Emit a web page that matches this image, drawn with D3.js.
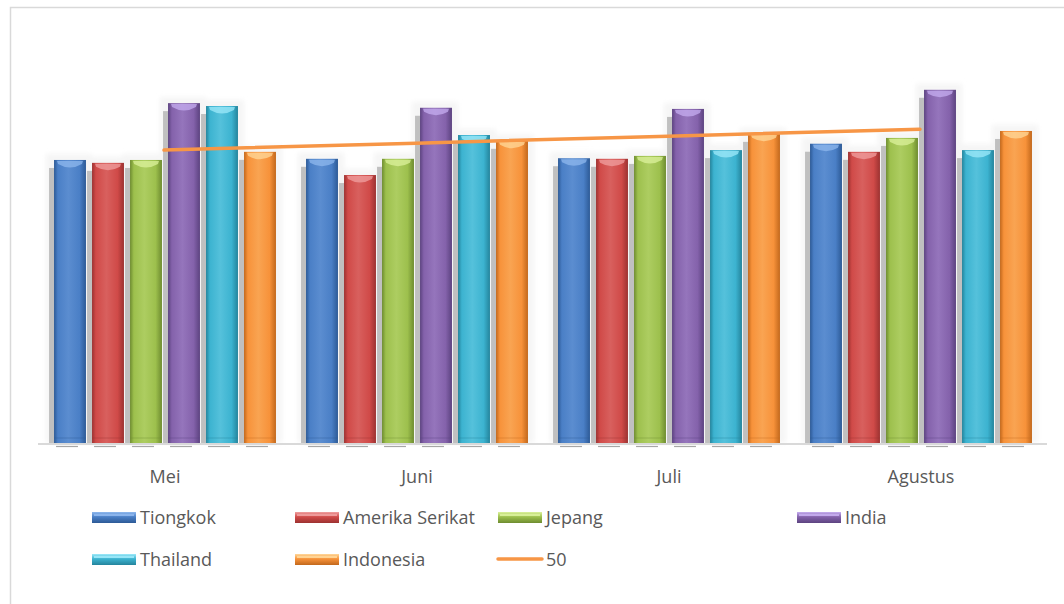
<!DOCTYPE html>
<html><head><meta charset="utf-8">
<script src="https://cdn.jsdelivr.net/npm/d3@7"></script>
<style>body{margin:0;background:#fff}svg{display:block}</style>
</head><body>
<svg id="c" width="1064" height="604"></svg>
<script>
const categories = ["Mei", "Juni", "Juli", "Agustus"];
const seriesNames = ["Tiongkok", "Amerika Serikat", "Jepang", "India", "Thailand", "Indonesia"];
const tiongkok = [48.8, 49.0, 49.1, 51.6];
const amerika = [48.3, 46.2, 49.0, 50.2];
const jepang = [48.8, 49.0, 49.5, 52.6];
const india = [58.6, 57.8, 57.6, 60.9];
const thailand = [58.1, 53.1, 50.5, 50.5];
const indonesia = [50.2, 52.1, 53.3, 53.8];
const lineName = "50";
const lineValues = [50.5, 51.7, 52.9, 54.1];
const seriesValues = [tiongkok, amerika, jepang, india, thailand, indonesia];

const colors = [
  {base:"#4a7fc6", dark:"#2d5a96", light:"#8fb8ee"},
  {base:"#d04a48", dark:"#9c3231", light:"#f0a0a0"},
  {base:"#9dc04d", dark:"#6e8c30", light:"#dcf29c"},
  {base:"#8462ab", dark:"#5c4380", light:"#c6aef0"},
  {base:"#3cb3d0", dark:"#24849c", light:"#9eeafa"},
  {base:"#f7923a", dark:"#c2681c", light:"#ffd89a"}
];
const lineColor = "#f79646";
const textColor = "#595959";
const font = "'Open Sans', sans-serif";

const svg = d3.select("#c");
const defs = svg.append("defs");

colors.forEach((c, i) => {
  const g = defs.append("linearGradient").attr("id", "hg" + i).attr("x1", 0).attr("x2", 1).attr("y1", 0).attr("y2", 0);
  [[0, c.dark], [0.12, c.base], [0.45, d3.interpolateRgb(c.base, c.light)(0.25)], [0.8, c.base], [1, c.dark]]
    .forEach(([o, col]) => g.append("stop").attr("offset", o).attr("stop-color", col));
  const l = defs.append("linearGradient").attr("id", "lg" + i).attr("x1", 0).attr("x2", 0).attr("y1", 0).attr("y2", 1);
  [[0, c.light], [0.45, c.base], [1, c.dark]].forEach(([o, col]) => l.append("stop").attr("offset", o).attr("stop-color", col));
});
const blur = defs.append("filter").attr("id", "soft").attr("x", "-20%").attr("y", "-20%").attr("width", "140%").attr("height", "140%");
blur.append("feGaussianBlur").attr("stdDeviation", 2.5);

// border
svg.append("rect").attr("x", 10.5).attr("y", 7.5).attr("width", 1070).attr("height", 620)
  .attr("fill", "none").attr("stroke", "#d9d9d9").attr("stroke-width", 1.5);

const x0 = d3.scaleBand().domain(categories).range([38, 1046]);
const x1 = d3.scaleBand().domain(seriesNames).range([13, 241]).paddingInner(0.16).paddingOuter(0.08);
const y = d3.scaleLinear().domain([0, 70]).range([443, 37]);

const bars = [];
categories.forEach((cat, ci) => {
  seriesNames.forEach((s, si) => {
    bars.push({cat, si, v: seriesValues[si][ci], x: x0(cat) + x1(s), w: x1.bandwidth()});
  });
});

// glow
svg.append("g").attr("filter", "url(#soft)").selectAll("rect").data(bars).join("rect")
  .attr("x", d => d.x - 8).attr("y", d => y(d.v) - 6)
  .attr("width", d => d.w + 14).attr("height", d => y(0) - y(d.v) + 6)
  .attr("fill", "#f5f5f5");
// shadow
svg.append("g").selectAll("rect").data(bars).join("rect")
  .attr("x", d => d.x - 5).attr("y", d => y(d.v) + 8)
  .attr("width", d => d.w).attr("height", d => y(0) - y(d.v) - 6)
  .attr("fill", "#c0c0c0");

// axis line
svg.append("line").attr("x1", 38).attr("x2", 1047).attr("y1", 444).attr("y2", 444)
  .attr("stroke", "#d9d9d9").attr("stroke-width", 2);

// reflections under bars
svg.append("g").selectAll("line").data(bars).join("line")
  .attr("x1", d => d.x + 2).attr("x2", d => d.x + d.w - 8)
  .attr("y1", 446.5).attr("y2", 446.5).attr("stroke", "#a6a6a6").attr("stroke-width", 1.2);

// bars
const bg = svg.append("g").selectAll("g").data(bars).join("g");
bg.append("rect")
  .attr("x", d => d.x).attr("y", d => y(d.v))
  .attr("width", d => d.w).attr("height", d => y(0) - y(d.v))
  .attr("fill", d => `url(#hg${d.si})`);
bg.append("path")
  .attr("d", d => {
    const x = d.x, t = y(d.v), w = d.w;
    return `M${x+3},${t+1} L${x+w-3},${t+1} L${x+w-4},${t+4} Q${x+w/2},${t+11} ${x+4},${t+4} Z`;
  })
  .attr("fill", d => colors[d.si].light).attr("opacity", 0.75);
bg.append("rect")
  .attr("x", d => d.x).attr("y", d => y(0) - 6)
  .attr("width", d => d.w).attr("height", 2)
  .attr("fill", d => colors[d.si].dark).attr("opacity", 0.2);

// line series
const line = d3.line().x((d, i) => x0(categories[i]) + x0.bandwidth() / 2).y(d => y(d));
svg.append("path").datum(lineValues).attr("d", line)
  .attr("fill", "none").attr("stroke", lineColor).attr("stroke-width", 3.5).attr("stroke-linecap", "round");

// category labels
svg.append("g").selectAll("text").data(categories).join("text")
  .attr("x", d => x0(d) + x0.bandwidth() / 2 + 1).attr("y", 483)
  .attr("text-anchor", "middle").attr("font-family", font).attr("font-size", 18)
  .attr("fill", textColor).text(d => d);

// legend
const legendCols = [92, 295, 498, 797];
const legendRows = [517, 559];
const legendItems = seriesNames.map((n, i) => ({name: n, type: "bar", i}))
  .concat([{name: lineName, type: "line"}]);
legendItems.forEach((it, k) => {
  const col = k < 4 ? k : k - 4;
  const row = k < 4 ? 0 : 1;
  const lx = legendCols[col], ly = legendRows[row];
  const g = svg.append("g");
  if (it.type === "bar") {
    g.append("rect").attr("x", lx).attr("y", ly - 5).attr("width", 44).attr("height", 11)
      .attr("fill", `url(#lg${it.i})`);
    g.append("rect").attr("x", lx + 2).attr("y", ly - 3).attr("width", 40).attr("height", 2)
      .attr("fill", colors[it.i].light).attr("opacity", 0.9);
  } else {
    g.append("line").attr("x1", lx).attr("x2", lx + 44).attr("y1", ly).attr("y2", ly)
      .attr("stroke", lineColor).attr("stroke-width", 3.5).attr("stroke-linecap", "round");
  }
  g.append("text").attr("x", lx + 48).attr("y", ly + 6.5)
    .attr("font-family", font).attr("font-size", 18).attr("fill", textColor).text(it.name);
});
</script>
</body></html>
